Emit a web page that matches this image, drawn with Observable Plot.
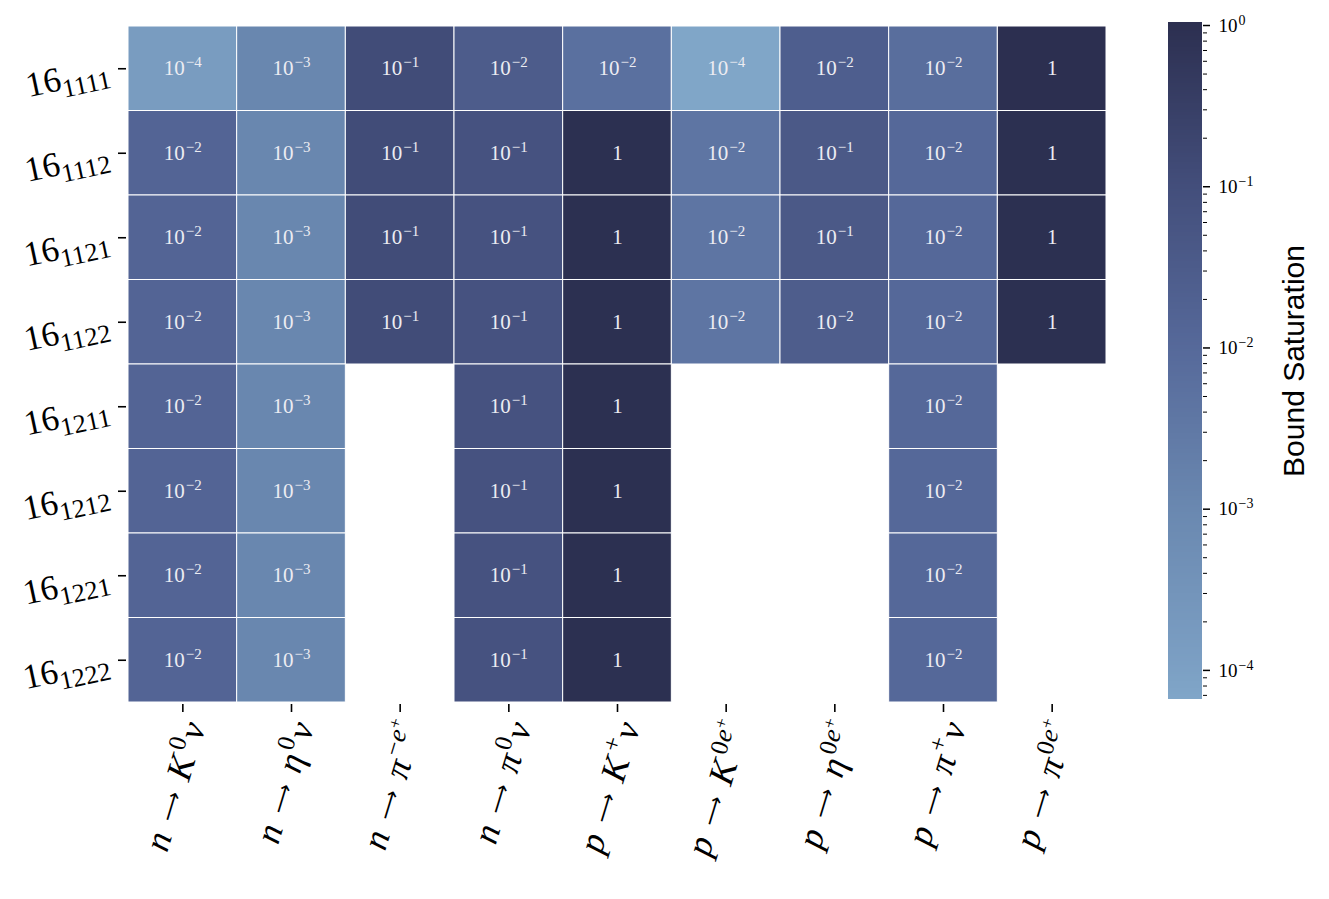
<!DOCTYPE html>
<html><head><meta charset="utf-8">
<script src="https://cdn.jsdelivr.net/npm/d3@7"></script>
<script src="https://cdn.jsdelivr.net/npm/@observablehq/plot@0.6"></script>
<style>
body{margin:0;background:#fff;}
#wrap{position:relative;width:1329px;height:899px;overflow:hidden;}
#main{position:absolute;left:0;top:0;}
#cbar{position:absolute;left:1130px;top:0;}
</style></head><body><div id="wrap"><div id="main"></div><div id="cbar"></div></div>
<script>
// ---- data ----
const rows = ["1111","1112","1121","1122","1211","1212","1221","1222"];
const parents = ["n","n","n","n","p","p","p","p","p"];
const mesons  = ["K","η","π","π","K","K","η","π","π"];
const charges = ["0","0","−","0","+","0","0","+","0"];
const leptons = ["ν","ν","e","ν","ν","e","e","ν","e"];
const channels = parents.map((p,i)=>`${p} → ${mesons[i]}${charges[i]}${leptons[i]}`);

const v1111 = [1.5e-4, 1.1e-3, 0.12, 0.031, 0.006, 6.6e-5, 0.025, 0.007, 1.04];
const v1112 = [0.015, 1.1e-3, 0.12, 0.07, 1.0, 0.004, 0.04, 0.011, 1.0];
const v1121 = [0.015, 1.1e-3, 0.12, 0.07, 1.0, 0.004, 0.04, 0.011, 1.0];
const v1122 = [0.015, 1.1e-3, 0.12, 0.07, 1.0, 0.004, 0.028, 0.011, 1.0];
const v1211 = [0.015, 1.1e-3, null, 0.07, 1.0, null, null, 0.011, null];
const v1212 = [0.015, 1.1e-3, null, 0.07, 1.0, null, null, 0.011, null];
const v1221 = [0.015, 1.1e-3, null, 0.07, 1.0, null, null, 0.011, null];
const v1222 = [0.015, 1.1e-3, null, 0.07, 1.0, null, null, 0.011, null];
const values = [v1111, v1112, v1121, v1122, v1211, v1212, v1221, v1222];

const cbarMin = 6.6e-5, cbarMax = 1.044;
const majorTicks = [1, 0.1, 0.01, 0.001, 0.0001];
const colorStops = [cbarMin, 1e-4, 1e-3, 1e-2, 1e-1, cbarMax];
const colorRange = ["#80a6c8", "#7ca0c4", "#6a88b0", "#56699a", "#434e7b", "#2c2f50"];

// ---- helpers ----
const expLabel = v => { const e = Math.round(Math.log10(v)); return e === 0 ? "1" : `10^${e < 0 ? "−" + (-e) : e}`; };
const cbLabel = v => { const e = Math.round(Math.log10(v)); return `10^${e < 0 ? "−" + (-e) : e}`; };

const data = [];
rows.forEach((r, i) => values[i].forEach((v, j) => { if (v != null) data.push({row: r, ch: channels[j], v}); }));

const colorOpts = {type: "log", domain: colorStops, range: colorRange};

const main = Plot.plot({
  width: 1130, height: 899,
  marginLeft: 128, marginRight: 24, marginTop: 26, marginBottom: 197,
  x: {domain: channels, padding: 0, round: false},
  y: {domain: rows, padding: 0, round: false},
  color: colorOpts,
  style: {fontFamily: "Liberation Serif", background: "white", color: "black"},
  marks: [
    Plot.cell(data, {x: "ch", y: "row", fill: "v", stroke: "white", strokeWidth: 1, inset: 0}),
    Plot.text(data, {x: "ch", y: "row", text: d => expLabel(d.v), fill: "#ececf2", fontSize: 21, ariaLabel: () => "cell-labels"}),
    Plot.axisX({tickSize: 8, tickFormat: () => "", label: null, strokeWidth: 1.6, dy: 2}),
    Plot.axisY({tickSize: 8, tickFormat: () => "", label: null, strokeWidth: 1.6, dx: -2}),
    Plot.text(channels, {x: d => d, frameAnchor: "bottom", dx: 23, dy: 24, rotate: -73, textAnchor: "end", fontSize: 36, fill: "black", ariaLabel: () => "x-labels"}),
    Plot.text(rows, {y: d => d, frameAnchor: "left", dx: -20, dy: 0, rotate: -12, textAnchor: "end", fontSize: 35, fill: "black", ariaLabel: () => "y-labels"})
  ]
});

// colorbar
const nSlices = 300;
const lo = Math.log10(cbarMin), hi = Math.log10(cbarMax);
const slices = d3.range(nSlices).map(i => {
  const a = lo + (hi - lo) * i / nSlices, b = lo + (hi - lo) * (i + 1) / nSlices;
  return {a: Math.pow(10, a), b: Math.pow(10, b), m: Math.pow(10, (a + b) / 2)};
});
const minorTicks = d3.scaleLog().domain([cbarMin, cbarMax]).ticks().filter(t => !majorTicks.some(m => Math.abs(m - t) / m < 1e-6));

const cb = Plot.plot({
  width: 199, height: 899,
  marginLeft: 38, marginRight: 127, marginTop: 22, marginBottom: 200,
  y: {type: "log", domain: [cbarMin, cbarMax]},
  color: colorOpts,
  style: {fontFamily: "Liberation Serif", background: "transparent", color: "black"},
  marks: [
    Plot.rect(slices, {y1: "a", y2: "b", fill: "m", shapeRendering: "crispEdges"}),
    Plot.axisY({anchor: "right", ticks: minorTicks, tickSize: 4, tickFormat: () => "", label: null, strokeWidth: 1}),
    Plot.axisY({anchor: "right", ticks: majorTicks, tickSize: 7, tickFormat: () => "", label: null, strokeWidth: 1.5}),
    Plot.text(majorTicks, {y: d => d, text: d => cbLabel(d), frameAnchor: "right", dx: 16, textAnchor: "start", fontSize: 19, fill: "black", ariaLabel: () => "cb-labels"}),
    Plot.text(["Bound Saturation"], {text: d => d, frameAnchor: "right", dx: 92, rotate: -90, textAnchor: "middle", fontSize: 30, fill: "black", fontFamily: "Liberation Sans"})
  ]
});

// ---- rich text (superscripts / subscripts) ----
function rich(svg, aria, builder) {
  const nodes = Array.from(svg.querySelectorAll(`[aria-label="${aria}"]`)).flatMap(n => n.tagName.toLowerCase() === "text" ? [n] : Array.from(n.querySelectorAll("text")));
  nodes.forEach((node, j) => {
    const t = d3.select(node); const s = node.textContent; t.text(null); builder(t, s, j);
  });
}
function supBuilder(sup, rise) {
  return (t, s) => {
    if (s.includes("^")) {
      const [b, e] = s.split("^");
      t.append("tspan").text(b);
      t.append("tspan").attr("dx", 1).attr("dy", -rise).attr("font-size", sup).text(e);
    } else t.append("tspan").text(s);
  };
}
rich(main, "cell-labels", supBuilder(15, 8));
rich(cb, "cb-labels", supBuilder(14, 7));
rich(main, "y-labels", (t, s, j) => {
  t.append("tspan").text("16");
  t.append("tspan").attr("dy", 8).attr("font-size", 26).text(rows[j]);
});
rich(main, "x-labels", (t, s, j) => {
  t.append("tspan").attr("font-style", "italic").text(parents[j]);
  t.append("tspan").attr("dx", 13).attr("dy", -3).attr("font-family", "DejaVu Sans").attr("font-size", 21).text("⟶");
  t.append("tspan").attr("dx", 13).attr("dy", 3).attr("font-style", "italic").text(mesons[j]);
  t.append("tspan").attr("dx", mesons[j] === "K" ? 4 : 2).attr("dy", -14).attr("font-size", 25).text(charges[j]);
  if (leptons[j] === "ν") {
    t.append("tspan").attr("dx", 2).attr("dy", 14).attr("font-style", "italic").text("ν");
  } else {
    t.append("tspan").attr("dx", 1).attr("font-style", "italic").attr("font-size", 26).text("e");
    t.append("tspan").attr("dy", -8).attr("font-size", 18).text("+");
  }
});

document.getElementById("main").appendChild(main);
document.getElementById("cbar").appendChild(cb);
</script>
</body></html>
